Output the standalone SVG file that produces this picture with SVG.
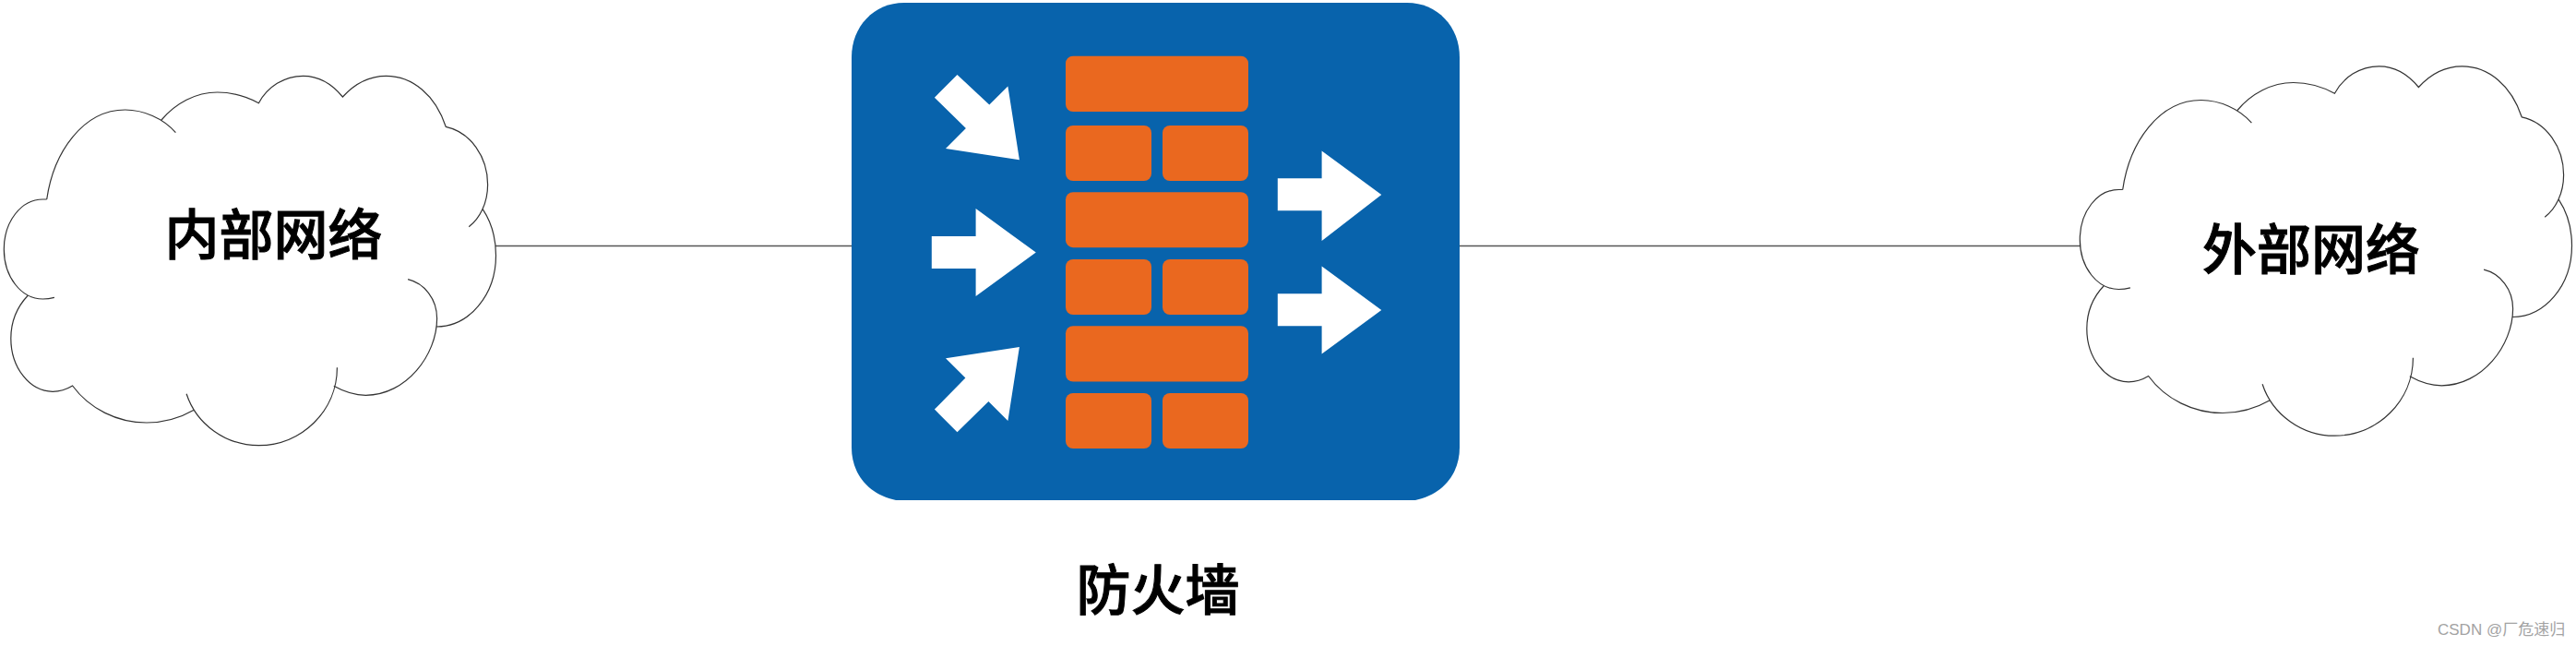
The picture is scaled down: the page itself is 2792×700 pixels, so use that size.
<svg xmlns="http://www.w3.org/2000/svg" width="2792" height="700" viewBox="0 0 2792 700">
<style>
.cloud{fill:none;stroke:#333;stroke-width:1.2}
.link{stroke:#555;stroke-width:1.3;fill:none}
.brick{fill:#ea681f}
.arrow{fill:#fff}
.label{font-family:"Noto Sans CJK SC","Noto Sans CJK JP",sans-serif;font-weight:500;font-size:59px;fill:#000;stroke:#000;stroke-width:1;text-anchor:middle}
.mark{font-family:"Liberation Sans","Noto Sans CJK SC",sans-serif;font-size:17px;fill:#a3a3a3}
</style>
<defs>
<path id="cloud-shape" class="cloud" d="M50.7,216 C58,165 90,119 135.7,119 C155,119 177,128 190.4,143.7 M175,130 C190,112 212,100 235.7,100 C251,100 268,105 280.4,111.7 C290,94 308,82.3 328.6,82.3 C345,82.3 360,91 371.4,105 C384,91 400,82.3 418.6,82.3 C447,82.3 472,103 483.2,137.3 C510,143 528.6,170 528.6,200 C528.6,220 520,237 508.2,245.7 M523.2,226.7 C532,240 537.5,258 537.5,276.7 C537.5,320 508,354 473.2,354 M442.1,302.7 C460,307 473.6,324 473.6,345 C473.6,385 440,428.3 396.4,428.3 C384,428.3 372,424 361.8,418.3 M365.4,398.3 C365.4,445 327,482.7 280.4,482.7 C245,482.7 213,460 202.1,426.7 M210.7,444 C195,453 177,458 158.9,458 C127,458 97,443 78.6,418 C72,422 64,424.3 57.1,424.3 C32,424.3 11.8,398 11.8,366.7 C11.8,348 19,332 30.4,320 M58.9,322.3 C55,323.4 50,324 46.4,324 C23,324 4.3,300 4.3,270 C4.3,240 23,216 46.4,216 L50.7,216"/>
</defs>
<rect width="2792" height="700" fill="#fff"/>
<g id="connectors">
<line class="link" x1="537" y1="266.5" x2="923" y2="266.5"/>
<line class="link" x1="1582" y1="266.5" x2="2255" y2="266.5"/>
</g>
<g id="internal-network">
<use href="#cloud-shape"/>
<text class="label" x="296.5" y="276">内部网络</text>
</g>
<g id="firewall">
<path fill="#0863ac" d="M923,62 C923,29 947,3 980,3 L1525,3 C1558,3 1582,29 1582,62 L1582,485 C1582,514 1563,536 1534,542 L971,542 C942,536 923,514 923,485 Z"/>
<rect class="brick" x="1155" y="60.7" width="198" height="60.3" rx="8"/>
<rect class="brick" x="1155" y="136" width="93" height="60" rx="8"/>
<rect class="brick" x="1260" y="136" width="93" height="60" rx="8"/>
<rect class="brick" x="1155" y="208.2" width="198" height="60" rx="8"/>
<rect class="brick" x="1155" y="281" width="93" height="60" rx="8"/>
<rect class="brick" x="1260" y="281" width="93" height="60" rx="8"/>
<rect class="brick" x="1155" y="353.2" width="198" height="60.4" rx="8"/>
<rect class="brick" x="1155" y="426" width="93" height="60" rx="8"/>
<rect class="brick" x="1260" y="426" width="93" height="60" rx="8"/>
<polygon class="arrow" points="1037.5,81.1 1072.3,113.6 1092.4,93.6 1104.9,173.2 1025,161.1 1046.9,138.9 1012.9,105.7"/>
<polygon class="arrow" points="1009.8,256.1 1057.6,256.1 1057.6,226.1 1122.8,273.6 1057.6,321.1 1057.6,291.1 1009.8,291.1"/>
<polygon class="arrow" points="1037.5,468.2 1071.4,435 1092.4,456.1 1104.9,376.1 1025,388.2 1046.4,409.6 1012.9,443.6"/>
<polygon class="arrow" points="1384.8,193.2 1432.6,193.2 1432.6,163.6 1497.3,211.1 1432.6,261 1432.6,228.2 1384.8,228.2"/>
<polygon class="arrow" points="1384.8,318.2 1432.6,318.2 1432.6,288.6 1497.3,336.1 1432.6,383.6 1432.6,353.2 1384.8,353.2"/>
<text class="label" x="1255" y="661">防火墙</text>
</g>
<g id="external-network">
<use href="#cloud-shape" transform="translate(2250,-10.5)"/>
<text class="label" x="2505" y="292">外部网络</text>
</g>
<text class="mark" x="2642" y="688">CSDN @厂危速归</text>
</svg>
